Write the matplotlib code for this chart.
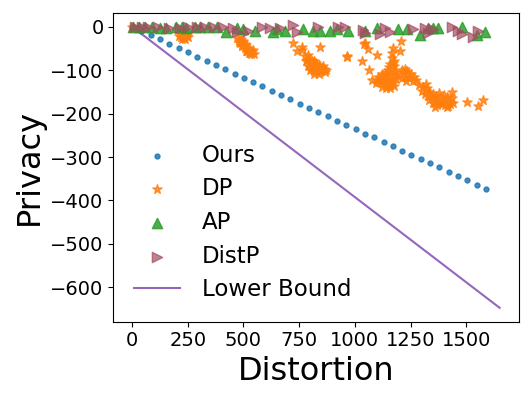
import matplotlib
matplotlib.use("Agg")
import matplotlib.pyplot as plt

# ---- data ----
ours_x = [0, 42, 84, 125, 167, 209, 251, 293, 335, 376, 418, 460, 502, 544, 585, 627,
          669, 711, 753, 794, 836, 878, 920, 962, 1004, 1045, 1087, 1129, 1171, 1213,
          1254, 1296, 1338, 1380, 1422, 1463, 1505, 1547, 1589]
ours_y = [0, -10, -20, -29, -39, -49, -59, -69, -79, -88, -98, -108, -118, -128, -137,
          -147, -157, -167, -177, -187, -196, -206, -216, -226, -236, -246, -255, -265,
          -275, -285, -295, -305, -314, -324, -334, -344, -354, -364, -373]

dp_x = [0,
        # cluster near 230
        215, 230, 245, 220, 235, 250, 225, 240, 232, 212, 248,
        # cluster near 500
        478, 490, 485, 500, 495, 510, 505, 520, 515, 530, 525, 540, 535, 548, 500, 520, 482,
        492, 508, 512, 528, 542, 470,
        # cluster near 800
        724, 762, 739, 762, 844, 964,
        775, 790, 785, 800, 815, 795, 810, 825, 840, 805, 820, 835, 850, 860, 830, 845,
        865, 815, 800, 780, 790, 808, 828, 848, 858, 872, 838, 818,
        # big cluster 1000-1600
        963, 1031, 1043, 1061, 1098, 1065, 1076, 1206, 1173, 1203, 1166, 1046, 1225, 1210,
        1165, 1178, 1160, 1175, 1168, 1150, 1182, 1120, 1135, 1160, 1175, 1105, 1125, 1145,
        1165, 1185, 1110, 1130, 1150, 1170, 1120, 1140, 1160, 1100, 1190,
        1172, 1155, 1140, 1115, 1135, 1155, 1178, 1128, 1148, 1095,
        1215, 1235, 1250, 1225, 1245, 1265, 1230, 1260, 1210, 1240, 1275,
        1290, 1305, 1300, 1320, 1315, 1335, 1330, 1350, 1345, 1365, 1360, 1380, 1375, 1395,
        1390, 1410, 1405, 1425, 1420, 1440, 1350, 1370, 1335, 1400, 1380, 1320, 1415, 1435,
        1340, 1358, 1385, 1398, 1412, 1428, 1362, 1325,
        1435, 1502, 1554, 1577]
dp_y = [0,
        -18, -16, -18, -24, -23, -24, -29, -29, -27, -21, -21,
        -30, -28, -38, -36, -45, -42, -50, -48, -55, -53, -60, -58, -63, -62, -32, -55, -36,
        -42, -39, -56, -60, -54, -26,
        -38, -46, -57, -54, -46, -69,
        -68, -66, -76, -74, -78, -84, -86, -84, -88, -94, -95, -96, -94, -98, -102, -103,
        -104, -102, -100, -80, -90, -80, -92, -100, -90, -100, -108, -108,
        -67, -80, -40, -52, -65, -100, -123, -34, -50, -57, -61, -38, -97, -100,
        -72, -78, -85, -90, -98, -100, -104, -108, -106, -110, -114, -115, -118, -120,
        -122, -120, -128, -130, -132, -130, -138, -140, -142, -122, -110,
        -84, -92, -114, -124, -124, -126, -136, -112, -136, -130,
        -105, -102, -108, -115, -118, -115, -125, -126, -118, -110, -122,
        -135, -138, -148, -145, -155, -150, -160, -155, -165, -160, -170, -165, -175, -168,
        -178, -172, -180, -172, -182, -175, -175, -180, -168, -158, -152, -132, -162, -165,
        -158, -168, -170, -176, -184, -178, -186, -140,
        -150, -173, -182, -169]

ap_x = [5, 33, 60, 90, 126, 153, 197, 223, 242, 283, 305, 343, 380, 422, 470, 500, 552,
        634, 649, 687, 769, 814, 844, 889, 919, 971, 1046, 1098, 1195, 1233, 1293, 1330,
        1352, 1375, 1480, 1548, 1584]
ap_y = [0, 0, 0, -1, -2, -4, -1, -1, -2, 0, 0, 0, 0, -12, -2, -6, -9,
        -12, -6, -9, -6, -9, -9, -9, -6, -9, -9, -4, -5, -6, -19, -4,
        -2, -4, 0, -19, -12]

distp_x = [13, 45, 73, 118, 168, 215, 253, 290, 328, 370, 410, 455, 470, 522, 582, 619,
           664, 724, 739, 836, 926, 956, 1038, 1046, 1113, 1136, 1158, 1263, 1315, 1330,
           1352, 1436, 1465, 1480, 1532, 1554]
distp_y = [0, 0, 0, 0, -2, -2, 0, 0, 0, 0, 0, -4, -12, -9, 0, -2,
           -2, 4, -12, 0, 0, 0, -8, -14, -17, -2, -12, -5, -2, -14,
           -6, 0, -9, -17, -23, -9]

lb_x = [0, 1650]
lb_y = [0, -647]

# ---- plot ----
fig = plt.figure(figsize=(5.31, 3.99), dpi=100)
ax = fig.add_axes([0.2134, 0.1937, 0.7640, 0.7743])

ax.scatter(ours_x, ours_y, marker='.', color='tab:blue', alpha=0.85, label='Ours', s=50, zorder=3)
ax.scatter(dp_x, dp_y, marker='*', color='tab:orange', alpha=0.8, label='DP', s=48, zorder=3)
ax.scatter(ap_x, ap_y, marker='^', color='tab:green', alpha=0.85, label='AP', s=55, zorder=3)
ax.scatter(distp_x, distp_y, marker='>', color='#a34d62', alpha=0.7, label='DistP', s=55, zorder=3)
ax.plot(lb_x, lb_y, color='tab:purple', label='Lower Bound', zorder=2)

ax.set_xlim(-84, 1737)
ax.set_ylim(-679, 32)
ax.set_xticks([0, 250, 500, 750, 1000, 1250, 1500])
ax.set_yticks([0, -100, -200, -300, -400, -500, -600])
ax.tick_params(labelsize=14)
ax.set_xlabel('Distortion', fontsize=23)
ax.set_ylabel('Privacy', fontsize=23)
ax.legend(loc='lower left', fontsize=16.5, frameon=False, labelspacing=0.46,
          handletextpad=0.95)

fig.savefig('out.png', dpi=100)
